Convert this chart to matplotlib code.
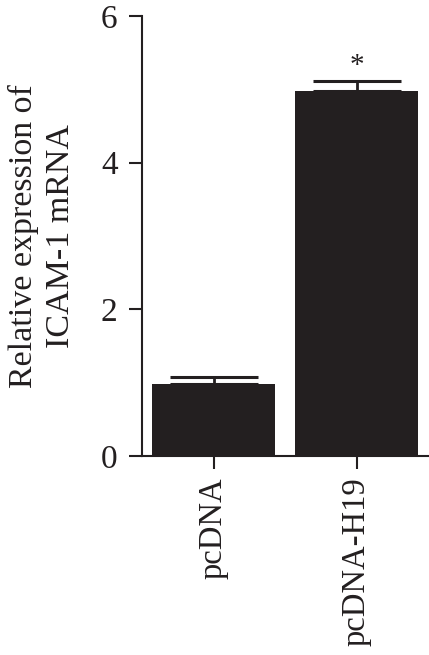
import matplotlib
matplotlib.use("Agg")
import matplotlib.pyplot as plt

categories = ["pcDNA", "pcDNA-H19"]
values = [0.98, 4.97]
errors = [0.10, 0.14]
yticks = [0, 2, 4, 6]
sig = ["", "*"]

plt.rcParams['font.family'] = ['Liberation Serif', 'DejaVu Serif']

fig = plt.figure(figsize=(4.29, 6.55), dpi=100)
ax = fig.add_axes([0.331, 0.304, 0.667, 0.6716])

color = "#231f20"
x = list(range(len(categories)))
ax.bar(x, values, width=0.86, color=color, zorder=2)
ax.errorbar(x, values, yerr=[[0]*len(errors), errors], fmt="none",
            ecolor=color, elinewidth=2, capsize=32, capthick=2.2, zorder=1)
for xi, v, e, s in zip(x, values, errors, sig):
    if s:
        ax.text(xi, v + e + 0.03, s, ha="center", va="bottom", fontsize=21, color=color)

ax.set_xlim(-0.5, 1.5)
ax.set_ylim(0, 6)
ax.set_yticks(yticks)
ax.set_yticklabels([str(t) for t in yticks], fontsize=24, color=color)
ax.set_xticks(x)
ax.set_xticklabels(categories, rotation=90, fontsize=23.5, color=color)
ax.spines['top'].set_visible(False)
ax.spines['right'].set_visible(False)
for sp in ['left', 'bottom']:
    ax.spines[sp].set_linewidth(1.5)
    ax.spines[sp].set_color(color)
ax.tick_params(axis='y', direction='out', length=9.5, width=1.5, color=color, pad=8)
ax.tick_params(axis='x', direction='out', length=9.5, width=1.5, color=color, pad=6)
ax.set_ylabel("Relative expression of\nICAM-1 mRNA", fontsize=24.5, color=color,
              labelpad=18, linespacing=1.28)

fig.savefig("out.png", dpi=100)
